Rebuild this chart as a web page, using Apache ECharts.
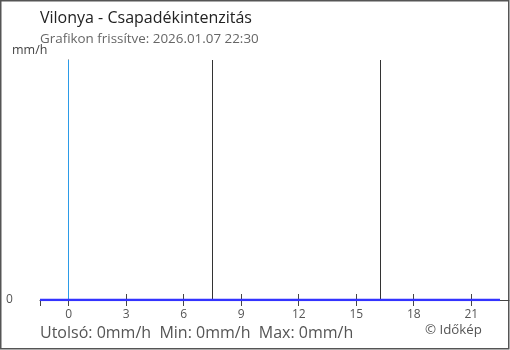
<!DOCTYPE html>
<html>
<head>
<meta charset="utf-8">
<script src="https://cdn.jsdelivr.net/npm/echarts@6/dist/echarts.min.js"></script>
<style>
html,body{margin:0;padding:0;background:#fff;}
#c{width:510px;height:350px;}
</style>
</head>
<body>
<div id="c"></div>
<script>
// Data (hours relative to local midnight of 2026.01.07)
const times = [-1.5, -1.0, -0.5, 0, 0.5, 1, 1.5, 2, 2.5, 3, 3.5, 4, 4.5, 5, 5.5, 6, 6.5, 7, 7.5, 8, 8.5, 9, 9.5, 10, 10.5, 11, 11.5, 12, 12.5, 13, 13.5, 14, 14.5, 15, 15.5, 16, 16.5, 17, 17.5, 18, 18.5, 19, 19.5, 20, 20.5, 21, 21.5, 22, 22.5];
const rain  = [0, 0, 0, 0, 0, 0, 0, 0, 0, 0, 0, 0, 0, 0, 0, 0, 0, 0, 0, 0, 0, 0, 0, 0, 0, 0, 0, 0, 0, 0, 0, 0, 0, 0, 0, 0, 0, 0, 0, 0, 0, 0, 0, 0, 0, 0, 0, 0, 0];
const xTickLabels = [0, 3, 6, 9, 12, 15, 18, 21];
const midnight = [0];
const sunEvents = [7.5, 16.27]; // sunrise, sunset
const titleText = 'Vilonya - Csapadékintenzitás';
const subText = 'Grafikon frissítve: 2026.01.07 22:30';
const unit = 'mm/h';
const stats = { last: 0, min: 0, max: 0 };

const FONT = '"Open Sans", sans-serif';
const chart = echarts.init(document.getElementById('c'), null, {renderer: 'canvas'});
const xMin = -1.5, xMax = 22.97;
const tickVals = [-1.5].concat(xTickLabels);

chart.setOption({
  animation: false,
  backgroundColor: '#fff',
  grid: { left: 40, right: 1, top: 60, bottom: 50 },
  xAxis: [{
    type: 'value', min: xMin, max: xMax,
    axisLine: { show: true, lineStyle: { color: '#444', width: 1 } },
    axisTick: { show: true, inside: false, length: 6, customValues: tickVals, lineStyle: { color: '#444' } },
    axisLabel: { show: true, customValues: xTickLabels, margin: 9, color: '#555', fontSize: 12, fontFamily: FONT },
    splitLine: { show: false }
  }, {
    type: 'value', min: xMin, max: xMax, position: 'bottom',
    axisLine: { show: false },
    axisTick: { show: true, inside: true, length: 6, customValues: xTickLabels, lineStyle: { color: '#444' } },
    axisLabel: { show: false },
    splitLine: { show: false }
  }],
  yAxis: {
    type: 'value', min: 0, max: 1,
    axisLine: { show: true, lineStyle: { color: '#444', width: 1 } },
    axisTick: { show: true, length: 6, customValues: [0], lineStyle: { color: '#444' } },
    axisLabel: { show: true, customValues: [0], margin: 34, color: '#555', fontSize: 12, fontFamily: FONT, align: 'left' },
    splitLine: { show: false }
  },
  series: [{
    type: 'line',
    data: times.map((t, i) => [t, rain[i]]),
    symbol: 'none',
    lineStyle: { color: '#3333ff', width: 2.5 },
    z: 5,
    markLine: {
      silent: true, symbol: 'none', label: { show: false },
      data: midnight.map(v => ({ xAxis: v, lineStyle: { color: '#2b9be8', width: 1, type: 'solid' } }))
        .concat(sunEvents.map(v => ({ xAxis: v, lineStyle: { color: '#333', width: 1, type: 'solid' } })))
    }
  }],
  graphic: [
    { type: 'rect', shape: { x: 0.75, y: 0.75, width: 508, height: 348 }, style: { fill: 'none', stroke: '#555', lineWidth: 1.5 }, silent: true },
    { type: 'text', left: 40, top: 10, style: { text: titleText, font: '16px ' + FONT, fill: '#222' } },
    { type: 'text', left: 40, top: 33, style: { text: subText, font: '13.4px ' + FONT, fill: '#666' } },
    { type: 'text', left: 12, top: 44, style: { text: unit, font: '12.5px ' + FONT, fill: '#444' } },
    { type: 'text', left: 40, top: 325, style: { text: 'Utolsó: ' + stats.last + unit + '  Min: ' + stats.min + unit + '  Max: ' + stats.max + unit, font: '16px ' + FONT, fill: '#555' } },
    { type: 'text', left: 425, top: 324, style: { text: '© Időkép', font: '13.3px ' + FONT, fill: '#555' } }
  ]
});
</script>
</body>
</html>
